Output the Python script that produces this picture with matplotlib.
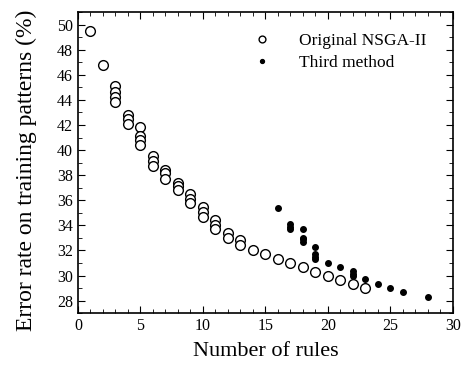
import matplotlib
matplotlib.use('Agg')
import matplotlib.pyplot as plt
from matplotlib.ticker import MultipleLocator

plt.rcParams['font.family'] = ['Liberation Serif', 'DejaVu Serif']

# Original NSGA-II
orig_rules = [1, 2, 3, 3, 3, 3, 4, 4, 4, 5, 5, 5, 5, 6, 6, 6, 7, 7, 7, 8, 8, 8,
              9, 9, 9, 10, 10, 10, 11, 11, 11, 12, 12, 13, 13,
              14, 15, 16, 17, 18, 19, 20, 21, 22, 23]
orig_err = [49.5, 46.8, 45.1, 44.6, 44.2, 43.8, 42.8, 42.5, 42.1, 41.8, 41.1, 40.8, 40.4,
            39.5, 39.1, 38.7, 38.4, 38.2, 37.7, 37.4, 37.1, 36.8,
            36.5, 36.1, 35.8, 35.5, 35.1, 34.7, 34.4, 34.0, 33.7, 33.4, 33.0, 32.8, 32.4,
            32.0, 31.7, 31.3, 31.0, 30.65, 30.3, 30.0, 29.65, 29.3, 29.0]

# Third method
third_rules = [16, 17, 17, 17, 18, 18, 18, 18, 19, 19, 19, 19, 20, 21, 22, 22, 22,
               23, 24, 25, 26, 28]
third_err = [35.4, 34.1, 33.9, 33.7, 33.7, 33.0, 32.9, 32.7, 32.3, 31.7, 31.5, 31.3,
             31.0, 30.7, 30.35, 30.1, 29.95, 29.7, 29.35, 29.0, 28.7, 28.3]

fig = plt.figure(figsize=(4.64, 3.65), dpi=100)
ax = fig.add_axes([0.168, 0.142, 0.808, 0.825])

ax.plot(orig_rules, orig_err, 'o', mfc='white', mec='black', mew=1.0, ms=7,
        label='Original NSGA-II')
ax.plot(third_rules, third_err, 'o', mfc='black', mec='black', ms=4,
        label='Third method')

ax.set_xlim(0, 30)
ax.set_ylim(27, 51)
ax.xaxis.set_major_locator(MultipleLocator(5))
ax.xaxis.set_minor_locator(MultipleLocator(1))
ax.yaxis.set_major_locator(MultipleLocator(2))
ax.yaxis.set_minor_locator(MultipleLocator(1))
ax.tick_params(which='both', direction='in', top=True, right=True, labelsize=11.5)
ax.tick_params(which='major', length=5)
ax.tick_params(which='minor', length=3)
for s in ax.spines.values():
    s.set_linewidth(1.2)

ax.set_xlabel('Number of rules', fontsize=16, labelpad=6)
ax.set_ylabel('Error rate on training patterns (%)', fontsize=17)
ax.yaxis.set_label_coords(-0.109, 0.475)

ax.legend(loc='upper right', bbox_to_anchor=(0.985, 1.0), frameon=False,
          fontsize=12.5, markerscale=0.7, handletextpad=1.1, borderaxespad=0.8,
          labelspacing=0.35)

fig.savefig('out.png', dpi=100)
